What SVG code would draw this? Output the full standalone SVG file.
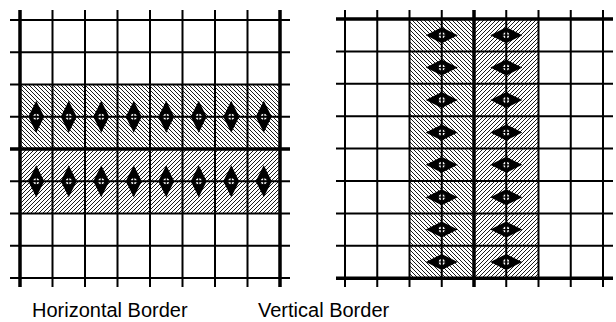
<svg xmlns="http://www.w3.org/2000/svg" width="616" height="322" viewBox="0 0 616 322">
<style>
.thin{stroke:#000;stroke-width:2;fill:none}
.thick{stroke:#000;stroke-width:3.5;fill:none}
.lbl{font-family:"Liberation Sans",Arial,sans-serif;font-size:20px;fill:#000}
</style>
<defs>
<pattern id="hb" patternUnits="userSpaceOnUse" width="4" height="4">
<rect width="4" height="4" fill="#fff"/>
<path d="M-1,3 l2,2 M0,0 l4,4 M3,-1 l2,2" stroke="#000" stroke-width="0.9"/>
</pattern>
<pattern id="hf" patternUnits="userSpaceOnUse" width="4" height="4">
<rect width="4" height="4" fill="#fff"/>
<path d="M-1,1 l2,-2 M0,4 l4,-4 M3,5 l2,-2" stroke="#000" stroke-width="0.9"/>
</pattern>
<g id="dv">
<path d="M0,-16 Q4,-8 7.5,-1 L7.5,1 Q4,8 0,16 Q-4,8 -7.5,1 L-7.5,-1 Q-4,-8 0,-16 Z" fill="#000"/>
<circle r="3.6" fill="#fff" stroke="#000" stroke-width="1.2"/>
<path d="M0,-3.6 V3.6 M-3.6,0 H3.6" stroke="#000" stroke-width="1.2"/>
</g>
<g id="dh">
<use href="#dv" transform="rotate(90)"/>
</g>
</defs>
<rect width="616" height="322" fill="#fff"/>

<g id="horizontal-border">
<rect x="20" y="84.5" width="260" height="64.5" fill="url(#hb)"/>
<rect x="20" y="149" width="260" height="64.5" fill="url(#hf)"/>
<g id="h-arrows">
<use href="#dv" x="36.25" y="116.75"/><use href="#dv" x="68.75" y="116.75"/><use href="#dv" x="101.25" y="116.75"/><use href="#dv" x="133.75" y="116.75"/>
<use href="#dv" x="166.25" y="116.75"/><use href="#dv" x="198.75" y="116.75"/><use href="#dv" x="231.25" y="116.75"/><use href="#dv" x="263.75" y="116.75"/>
<use href="#dv" x="36.25" y="181.25"/><use href="#dv" x="68.75" y="181.25"/><use href="#dv" x="101.25" y="181.25"/><use href="#dv" x="133.75" y="181.25"/>
<use href="#dv" x="166.25" y="181.25"/><use href="#dv" x="198.75" y="181.25"/><use href="#dv" x="231.25" y="181.25"/><use href="#dv" x="263.75" y="181.25"/>
</g>
<g id="h-grid">
<path class="thin" d="M10,20H290 M10,52.25H290 M10,84.5H290 M10,116.75H290 M10,181.25H290 M10,213.5H290 M10,245.75H290 M10,278H290"/>
<path class="thin" d="M52.5,10V287 M85,10V287 M117.5,10V287 M150,10V287 M182.5,10V287 M215,10V287 M247.5,10V287"/>
<path class="thick" d="M10,149H290 M20,10V287 M280,10V287"/>
</g>
</g>

<g id="vertical-border">
<rect x="409.5" y="19" width="64.5" height="259.2" fill="url(#hb)"/>
<rect x="474" y="19" width="64.5" height="259.2" fill="url(#hf)"/>
<g id="v-arrows">
<use href="#dh" x="441.75" y="35.2"/><use href="#dh" x="441.75" y="67.6"/><use href="#dh" x="441.75" y="100"/><use href="#dh" x="441.75" y="132.4"/>
<use href="#dh" x="441.75" y="164.8"/><use href="#dh" x="441.75" y="197.2"/><use href="#dh" x="441.75" y="229.6"/><use href="#dh" x="441.75" y="262"/>
<use href="#dh" x="506.25" y="35.2"/><use href="#dh" x="506.25" y="67.6"/><use href="#dh" x="506.25" y="100"/><use href="#dh" x="506.25" y="132.4"/>
<use href="#dh" x="506.25" y="164.8"/><use href="#dh" x="506.25" y="197.2"/><use href="#dh" x="506.25" y="229.6"/><use href="#dh" x="506.25" y="262"/>
</g>
<g id="v-grid">
<path class="thin" d="M336,51.4H613 M336,83.8H613 M336,116.2H613 M336,148.6H613 M336,181H613 M336,213.4H613 M336,245.8H613"/>
<path class="thin" d="M345,10V287 M377.25,10V287 M409.5,10V287 M441.75,10V287 M506.25,10V287 M538.5,10V287 M570.75,10V287 M603,10V287"/>
<path class="thick" d="M336,19H613 M336,278.2H613 M474,10V287"/>
</g>
</g>

<text class="lbl" x="32" y="317">Horizontal Border</text>
<text class="lbl" x="258" y="317">Vertical Border</text>
</svg>
